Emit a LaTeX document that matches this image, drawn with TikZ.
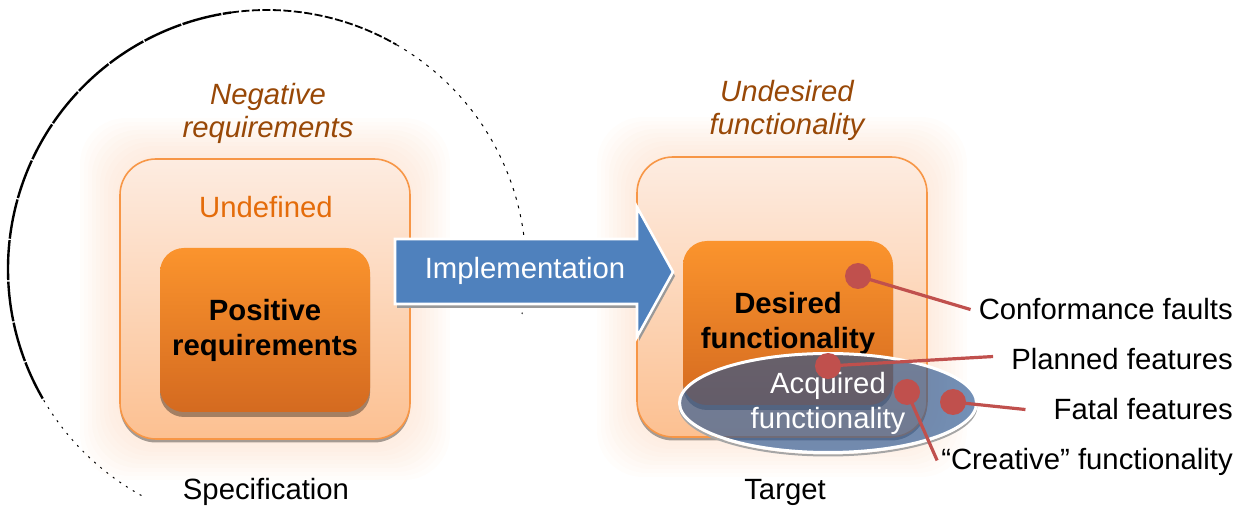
\documentclass[tikz,border=0pt]{standalone}
\usepackage{fontspec}
\setmainfont{Liberation Sans}
\usetikzlibrary{shapes.geometric,calc,shadows}
\definecolor{boxline}{RGB}{247,150,70}
\definecolor{peachtop}{RGB}{253,236,225}
\definecolor{peachbot}{RGB}{252,192,145}
\definecolor{oratop}{RGB}{251,148,45}
\definecolor{orabot}{RGB}{212,106,32}
\definecolor{undefc}{RGB}{228,108,10}
\definecolor{negc}{RGB}{152,72,7}
\definecolor{arrowblue}{RGB}{79,129,189}
\definecolor{ellfill}{RGB}{40,85,145}
\definecolor{reddot}{RGB}{192,80,77}
\definecolor{glowc}{RGB}{250,185,140}
\begin{document}
\begin{tikzpicture}[x=1pt,y=-1pt,
  every node/.style={font=\fontsize{29.3pt}{34pt}\selectfont},
  outerbox/.style={draw=boxline,line width=1.6pt,rounded corners=36pt,top color=peachtop,bottom color=peachbot,minimum width=290pt,minimum height=280pt,inner sep=0pt,
    drop shadow={shadow xshift=0pt,shadow yshift=-3.5pt,fill=black,opacity=0.35}},
  innerbox/.style={rounded corners=24pt,top color=oratop,bottom color=orabot,minimum width=210pt,minimum height=164pt,align=center,
    font=\fontsize{29.3pt}{35pt}\selectfont\bfseries,
    drop shadow={shadow xshift=0pt,shadow yshift=-5pt,fill=black,opacity=0.35}},
  neglabel/.style={text=negc,align=center,font=\fontsize{29.3pt}{33pt}\selectfont\itshape},
  glowbox/.style={fill=glowc,opacity=0.03,rounded corners=46pt},
  dot/.style={circle,fill=reddot,minimum size=26pt,inner sep=0pt},
  redline/.style={draw=reddot,line width=3.2pt},
  sidelabel/.style={anchor=base east,inner sep=0pt},
  bluearrow/.style={fill=arrowblue,draw=white,line width=2.6pt,line join=miter},
  arrowshadow/.style={fill=black!40},
]
\useasboundingbox (0,0) rectangle (1243,510);

% big circle (broken outline)
\coordinate (cc) at (267,269);
\draw[line width=1pt,dash pattern=on 2pt off 6pt] ([shift={(119:259)}]cc) arc[start angle=119,end angle=150,radius=259];
\draw[line width=2.4pt,dash pattern=on 40pt off 1.5pt] ([shift={(150:259)}]cc) arc[start angle=150,end angle=262,radius=259];
\draw[line width=1.8pt,dash pattern=on 8pt off 2.5pt] ([shift={(262:259)}]cc) arc[start angle=262,end angle=300,radius=259];
\draw[line width=1pt,dash pattern=on 3pt off 6pt] ([shift={(300:259)}]cc) arc[start angle=300,end angle=370,radius=259];

% glows
\foreach \g in {1,...,10}{
  \fill[glowbox] (120-4*\g,158-4*\g) rectangle (410+4*\g,440+4*\g);
  \fill[glowbox] (637-4*\g,157-4*\g) rectangle (927+4*\g,437+4*\g);
}

% outer boxes
\node[outerbox] (undef) at (265,299) {};
\node[outerbox] (target) at (782,297) {};

% labels above
\node[text=undefc] (undeftxt) at (266,207) {Undefined};
\node[neglabel] (neg) at (268,113) {Negative\\requirements};
\node[neglabel] (undes) at (787,110) {Undesired\\functionality};

% inner boxes
\node[innerbox] (pos) at (265,330) {Positive\\requirements};
\node[innerbox] (des) at (788,323) {Desired\\functionality};

% implementation arrow
\fill[arrowshadow,shift={(2,4)}] (395,239) -- (637,239) -- (637,207) -- (673,272) -- (637,337) -- (637,304) -- (395,304) -- cycle;
\filldraw[bluearrow] (395,239) -- (637,239) -- (637,207) -- (673,272) -- (637,337) -- (637,304) -- (395,304) -- cycle;
\node[text=white] (impl) at (525,271) {Implementation};

% acquired functionality ellipse
\draw[black!35,line width=2pt] (976.5,406) arc[start angle=0,end angle=180,x radius=148.5,y radius=49.5];
\node[ellipse,minimum width=297pt,minimum height=99pt,inner sep=0pt,fill=ellfill,fill opacity=0.65,text opacity=1,
  draw=white,line width=3pt,text=white,align=center,font=\fontsize{29.3pt}{35pt}\selectfont] (acq) at (828,403) {Acquired\\functionality};

% captions
\node (spec) at (266,492) {Specification};
\node (targ) at (785,492) {Target};

% side labels
\node[sidelabel] (conf) at (1233,320) {Conformance faults};
\node[sidelabel] (plan) at (1233,370) {Planned features};
\node[sidelabel] (fatal) at (1233,420) {Fatal features};
\node[sidelabel] (creat) at (1233,470) {“Creative” functionality};

% dots
\node[dot] (d1) at (858,276) {};
\node[dot] (d2) at (828,366) {};
\node[dot] (d3) at (907,392) {};
\node[dot] (d4) at (953,402) {};

% connectors
\draw[redline] (d1.center) -- ($(conf.west)+(-8,0)$);
\draw[redline] (d2.center) -- ($(plan.west)+(-18,-3)$);
\draw[redline] (d4.center) -- ($(fatal.west)+(-28,0)$);
\draw[redline] (d3.center) -- ($(creat.west)+(-4,-2)$);
\end{tikzpicture}
\end{document}
